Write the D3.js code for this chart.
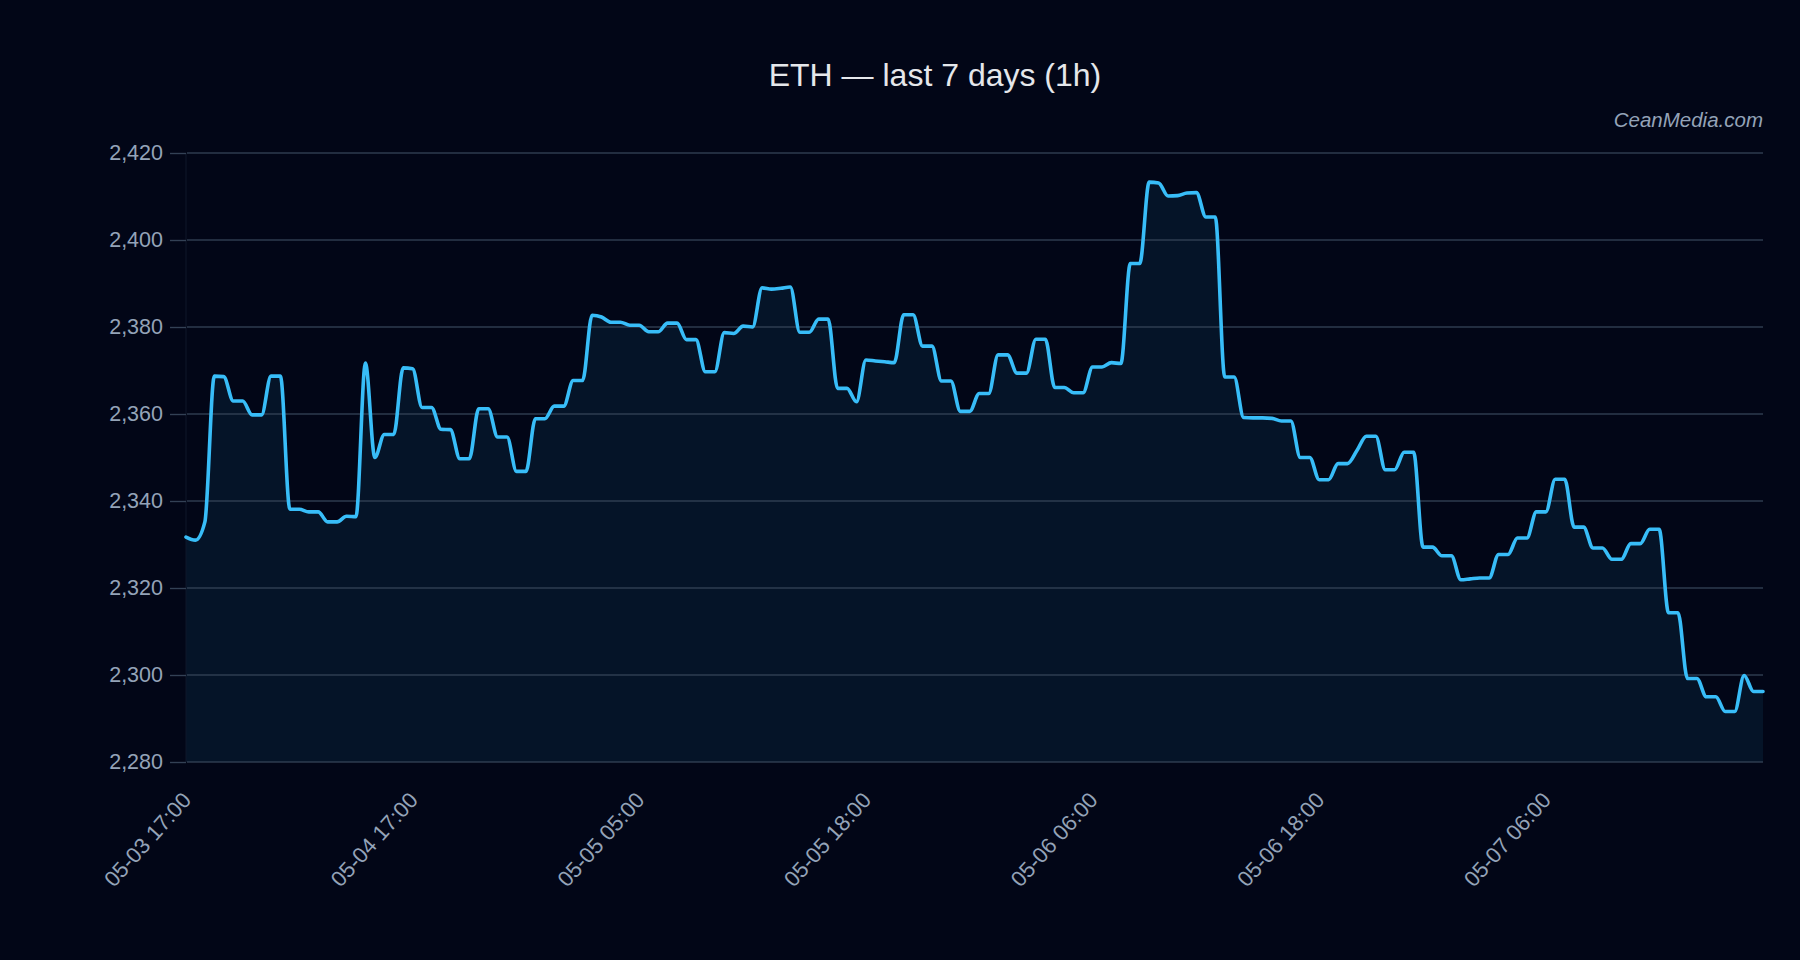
<!DOCTYPE html>
<html>
<head>
<meta charset="utf-8">
<script src="https://cdn.jsdelivr.net/npm/d3@7"></script>
<style>
  html, body { margin: 0; padding: 0; background: #020617; }
  svg { display: block; }
</style>
</head>
<body>
<script>
// ---- data ----
const title = "ETH — last 7 days (1h)";
const watermark = "CeanMedia.com";
const prices = [
  2331.7, 2331.0, 2335.2, 2368.7, 2368.6, 2363.0, 2363.0, 2359.8, 2359.8, 2368.7,
  2368.7, 2338.1, 2338.1, 2337.5, 2337.5, 2335.2, 2335.2, 2336.5, 2336.4, 2371.7,
  2350.0, 2355.3, 2355.3, 2370.6, 2370.4, 2361.5, 2361.5, 2356.5, 2356.4, 2349.7,
  2349.7, 2361.2, 2361.2, 2354.7, 2354.7, 2346.8, 2346.8, 2358.9, 2358.9, 2361.8,
  2361.8, 2367.7, 2367.7, 2382.7, 2382.3, 2381.1, 2381.1, 2380.4, 2380.4, 2378.9,
  2378.9, 2380.9, 2380.9, 2377.1, 2377.1, 2369.7, 2369.7, 2378.7, 2378.5, 2380.2,
  2380.0, 2389.0, 2388.7, 2388.9, 2389.2, 2378.8, 2378.8, 2381.8, 2381.8, 2365.9,
  2365.9, 2362.8, 2372.4, 2372.2, 2372.0, 2371.8, 2382.8, 2382.8, 2375.6, 2375.6,
  2367.6, 2367.6, 2360.6, 2360.6, 2364.7, 2364.7, 2373.6, 2373.6, 2369.4, 2369.4,
  2377.2, 2377.2, 2366.1, 2366.1, 2364.9, 2364.9, 2370.8, 2370.8, 2371.8, 2371.6,
  2394.6, 2394.6, 2413.3, 2413.1, 2410.1, 2410.2, 2410.8, 2410.9, 2405.3, 2405.3,
  2368.5, 2368.5, 2359.2, 2359.1, 2359.1, 2359.0, 2358.4, 2358.4, 2350.0, 2350.0,
  2344.9, 2344.9, 2348.6, 2348.6, 2351.6, 2354.9, 2354.9, 2347.2, 2347.2, 2351.2,
  2351.2, 2329.4, 2329.4, 2327.4, 2327.4, 2321.9, 2322.1, 2322.3, 2322.3, 2327.7,
  2327.7, 2331.5, 2331.5, 2337.5, 2337.5, 2345.0, 2345.0, 2334.0, 2334.0, 2329.2,
  2329.2, 2326.6, 2326.6, 2330.2, 2330.2, 2333.5, 2333.5, 2314.3, 2314.3, 2299.2,
  2299.2, 2295.0, 2295.0, 2291.6, 2291.6, 2299.9, 2296.2, 2296.2
];
const xTickIndex = [0, 24, 48, 72, 96, 120, 144];
const xTickLabels = ["05-03 17:00", "05-04 17:00", "05-05 05:00", "05-05 18:00", "05-06 06:00", "05-06 18:00", "05-07 06:00"];
const yTicks = [2280, 2300, 2320, 2340, 2360, 2380, 2400, 2420];

// ---- layout ----
const W = 1800, H = 960;
const M = { left: 186, right: 37, top: 153, bottom: 198 };
const FONT = "'Liberation Sans', Arial, sans-serif";

const svg = d3.select("body").append("svg")
  .attr("width", W).attr("height", H)
  .style("background", "#020617");

svg.append("rect").attr("width", W).attr("height", H).attr("fill", "#020617");

const x = d3.scaleLinear().domain([0, prices.length - 1]).range([M.left, W - M.right]);
const y = d3.scaleLinear().domain([2280, 2420]).range([H - M.bottom, M.top]);

// area fill
const area = d3.area()
  .x((d, i) => x(i))
  .y0(y(2280))
  .y1(d => y(d))
  .curve(d3.curveMonotoneX);

svg.append("path")
  .datum(prices)
  .attr("d", area)
  .attr("fill", "#38bdf8")
  .attr("fill-opacity", 0.08);

// faint left domain
svg.append("line")
  .attr("x1", M.left).attr("x2", M.left)
  .attr("y1", M.top).attr("y2", H - M.bottom)
  .attr("stroke", "#0f172a").attr("stroke-width", 1);

// y axis with gridlines
const yAxis = d3.axisLeft(y)
  .tickValues(yTicks)
  .tickFormat(d3.format(","))
  .tickSize(16)
  .tickPadding(7);

const gy = svg.append("g")
  .attr("transform", `translate(${M.left},0)`)
  .call(yAxis);
gy.select(".domain").remove();
gy.selectAll(".tick line").attr("stroke", "#334155").attr("stroke-width", 1.4);
gy.selectAll(".tick text")
  .attr("fill", "#94a3b8")
  .style("font-family", FONT)
  .style("font-size", "21.5px");

svg.append("g")
  .selectAll("line")
  .data(yTicks)
  .join("line")
  .attr("x1", M.left + 1).attr("x2", W - M.right)
  .attr("y1", d => y(d)).attr("y2", d => y(d))
  .attr("stroke", "#334155")
  .attr("stroke-opacity", 0.9)
  .attr("stroke-width", 1.4);

// line
const line = d3.line()
  .x((d, i) => x(i))
  .y(d => y(d))
  .curve(d3.curveMonotoneX);

svg.append("path")
  .datum(prices)
  .attr("d", line)
  .attr("fill", "none")
  .attr("stroke", "#38bdf8")
  .attr("stroke-width", 3.6)
  .attr("stroke-linejoin", "round")
  .attr("stroke-linecap", "round");

// x axis labels (rotated)
const xAxis = d3.axisBottom(x)
  .tickValues(xTickIndex)
  .tickFormat((d, i) => xTickLabels[i])
  .tickSize(0);

const gx = svg.append("g")
  .attr("transform", `translate(0,${H - M.bottom})`)
  .call(xAxis);
gx.select(".domain").remove();
gx.selectAll(".tick text")
  .attr("fill", "#94a3b8")
  .style("font-family", FONT)
  .style("font-size", "22px")
  .attr("text-anchor", "end")
  .attr("dy", null)
  .attr("y", null)
  .attr("transform", "translate(6,39) rotate(-48)");

// title
svg.append("text")
  .attr("x", 935)
  .attr("y", 86)
  .attr("text-anchor", "middle")
  .attr("fill", "#e5e7eb")
  .style("font-family", FONT)
  .style("font-size", "32px")
  .text(title);

// watermark
svg.append("text")
  .attr("x", W - M.right)
  .attr("y", 127)
  .attr("text-anchor", "end")
  .attr("fill", "#94a3b8")
  .style("font-family", FONT)
  .style("font-style", "italic")
  .style("font-size", "20.5px")
  .text(watermark);
</script>
</body>
</html>
